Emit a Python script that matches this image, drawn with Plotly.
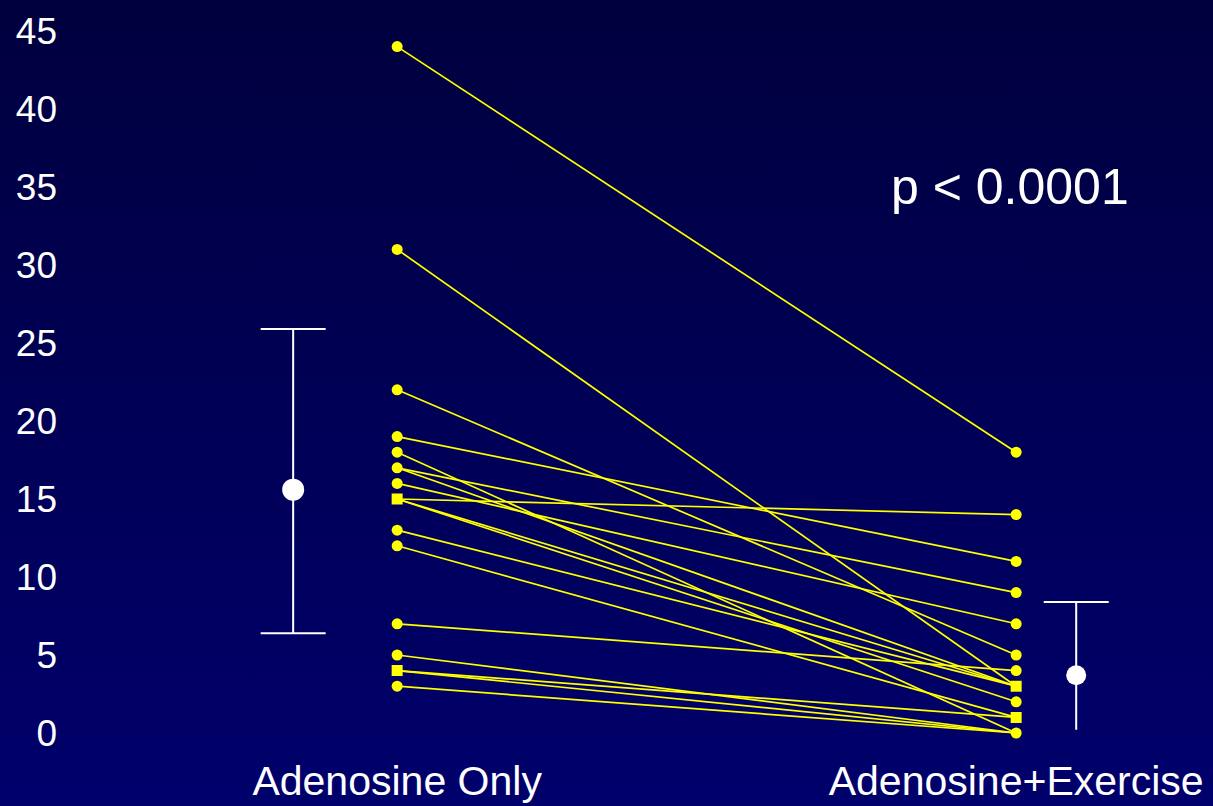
import base64
import plotly.graph_objects as go

# ---------------- data ----------------
categories = ["Adenosine Only", "Adenosine+Exercise"]
cat_pos = [1, 2]

# paired values per subject
adenosine_only = [44, 31, 22, 19, 18, 17, 17, 16, 15, 15, 15, 13, 12, 7, 5, 4, 4, 3]
adenosine_exercise = [18, 3, 5, 11, 0, 9, 3, 7, 14, 3, 2, 3, 1, 4, 0, 1, 0, 0]

# values drawn with a square marker
left_square_values = [15, 4]
right_square_values = [3, 1]

# group mean and whisker ends
group_mean = [15.6, 3.7]
whisker_high = [25.9, 8.4]
whisker_low = [6.4, 0.2]
lower_cap = [True, False]

y_ticks = [0, 5, 10, 15, 20, 25, 30, 35, 40, 45]
p_text = "p < 0.0001"

# ---------------- styling ----------------
YELLOW = "#ffff00"
WHITE = "#ffffff"
FONT = "Liberation Sans, Arial, sans-serif"
mean_offset = [-0.168, 0.097]   # horizontal offset of mean bars from category
cap_half = 0.0525

fig = go.Figure()

# connecting lines
lx, ly = [], []
for a, b in zip(adenosine_only, adenosine_exercise):
    lx += [cat_pos[0], cat_pos[1], None]
    ly += [a, b, None]
fig.add_trace(go.Scatter(x=lx, y=ly, mode="lines",
                         line=dict(color=YELLOW, width=1.7),
                         hoverinfo="skip", showlegend=False))

# markers
def add_markers(xpos, values, squares):
    uniq = sorted(set(values), reverse=True)
    syms = ["square" if v in squares else "circle" for v in uniq]
    fig.add_trace(go.Scatter(x=[xpos] * len(uniq), y=uniq, mode="markers",
                             marker=dict(color=YELLOW, size=11, symbol=syms,
                                         line=dict(width=0)),
                             showlegend=False))

add_markers(cat_pos[0], adenosine_only, left_square_values)
add_markers(cat_pos[1], adenosine_exercise, right_square_values)

# mean +/- whiskers
for i in range(2):
    xc = cat_pos[i] + mean_offset[i]
    fig.add_trace(go.Scatter(x=[xc, xc], y=[whisker_low[i], whisker_high[i]],
                             mode="lines", line=dict(color=WHITE, width=2),
                             showlegend=False, hoverinfo="skip"))
    fig.add_trace(go.Scatter(x=[xc - cap_half, xc + cap_half],
                             y=[whisker_high[i], whisker_high[i]],
                             mode="lines", line=dict(color=WHITE, width=2),
                             showlegend=False, hoverinfo="skip"))
    if lower_cap[i]:
        fig.add_trace(go.Scatter(x=[xc - cap_half, xc + cap_half],
                                 y=[whisker_low[i], whisker_low[i]],
                                 mode="lines", line=dict(color=WHITE, width=2),
                                 showlegend=False, hoverinfo="skip"))
    fig.add_trace(go.Scatter(x=[xc], y=[group_mean[i]], mode="markers",
                             marker=dict(color=WHITE, size=22 if i == 0 else 20),
                             showlegend=False))

fig.add_annotation(x=1.99, y=35, xref="x", yref="y", text=p_text,
                   showarrow=False, font=dict(family=FONT, size=50, color=WHITE))

# gradient background as svg image
svg = ('<svg xmlns="http://www.w3.org/2000/svg" width="10" height="100" '
       'preserveAspectRatio="none"><defs><linearGradient id="g" x1="0" y1="0" '
       'x2="0" y2="1"><stop offset="0" stop-color="#00003e"/>'
       '<stop offset="1" stop-color="#00006c"/></linearGradient></defs>'
       '<rect width="10" height="100" fill="url(#g)"/></svg>')
uri = "data:image/svg+xml;base64," + base64.b64encode(svg.encode()).decode()
fig.add_layout_image(dict(source=uri, xref="paper", yref="paper", x=0, y=1,
                          sizex=1, sizey=1, xanchor="left", yanchor="top",
                          sizing="stretch", layer="below"))

fig.update_layout(
    width=1213, height=806,
    margin=dict(l=0, r=0, t=0, b=0),
    paper_bgcolor="#000050",
    plot_bgcolor="rgba(0,0,0,0)",
    font=dict(family=FONT, color=WHITE),
    xaxis=dict(domain=[0.0544, 1.0], range=[0.465, 2.318],
               tickvals=cat_pos, ticktext=categories,
               tickfont=dict(size=41, color=WHITE),
               showgrid=False, zeroline=False, showline=False, ticks="",
               ticklabelstandoff=12, automargin=False),
    yaxis=dict(domain=[0.0809, 0.9809], range=[-0.5, 46],
               tickvals=y_ticks, tickfont=dict(size=37, color=WHITE),
               showgrid=False, zeroline=False, showline=False, ticks="",
               ticklabelstandoff=8, automargin=False),
)

fig.write_html("out.html",
               config={"displayModeBar": False},
               post_script="document.body.style.margin='0';"
                           "document.body.style.background='#000050';"
                           "document.body.style.overflow='hidden';")
